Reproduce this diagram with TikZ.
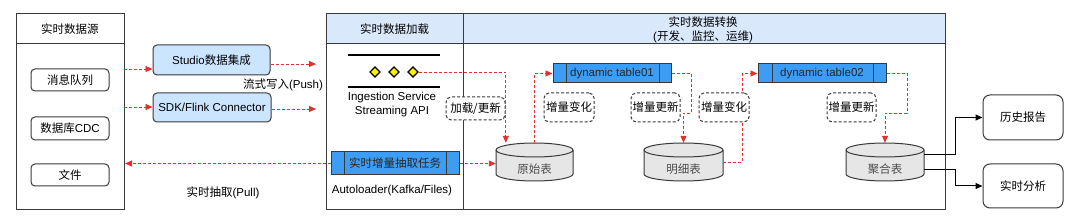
\documentclass[tikz,border=0pt]{standalone}
\usepackage{fontspec}
\setmainfont{Liberation Sans}
\newfontfamily\cjk{Noto Sans CJK SC}
\usetikzlibrary{arrows.meta,calc}
\definecolor{hdrblue}{HTML}{DAE8FC}
\definecolor{lightblue}{HTML}{CCE5FF}
\definecolor{procblue}{HTML}{3D9DF5}
\definecolor{linegray}{HTML}{3A3A3A}
\definecolor{cylfill}{HTML}{E6E6E6}
\definecolor{reddash}{HTML}{E03030}
\newcommand{\zh}[1]{{\cjk #1}}
\newcommand{\mycyl}[2]{%
  \draw[cylstyle] (#1-#2,150) -- (#1-#2,174) arc[start angle=180,end angle=0,x radius=#2,y radius=7]
     -- (#1+#2,150) arc[start angle=0,end angle=-180,x radius=#2,y radius=7] -- cycle;
  \draw[cylline] (#1-#2,150) arc[start angle=180,end angle=0,x radius=#2,y radius=7];}
\tikzset{
  panelline/.style={draw=linegray, line width=1pt},
  srcitem/.style={draw=linegray, line width=1pt, rounded corners=4pt, fill=white, inner sep=0pt},
  bluebox/.style={draw=linegray, line width=1pt, rounded corners=4pt, fill=lightblue, inner sep=0pt},
  procbox/.style={draw=linegray, line width=1pt, fill=procblue, inner sep=0pt, text=black!85},
  dashlbl/.style={draw=linegray, line width=1pt, dash pattern=on 3pt off 2pt, rounded corners=5pt, fill=white, inner sep=0pt},
  outbox/.style={draw=linegray, line width=1pt, rounded corners=7pt, fill=white, inner sep=0pt},
  cylstyle/.style={draw=linegray, line width=1pt, fill=cylfill},
  cylline/.style={draw=linegray, line width=1pt},
  cylbox/.style={inner sep=0pt, minimum height=38pt},
  redarrow/.style={draw=reddash, line width=0.9pt, dash pattern=on 3pt off 2pt, -{Triangle[length=7pt,width=6pt]}},
  blackarrow/.style={draw=black, line width=1pt, -{Triangle[length=7pt,width=6pt]}},
}
\begin{document}
\begin{tikzpicture}[x=1pt,y=-1pt,font=\fontsize{11.5}{13.5}\selectfont]
\useasboundingbox (0,0) rectangle (1080,219);
\fill[white] (0,0) rectangle (1080,219);
% left panel
\node[draw=linegray, line width=1pt, minimum width=108pt, minimum height=196pt, inner sep=0pt] (src) at (70,112) {};
\draw[panelline] (16,44) -- (124,44);
\node (srctitle) at (70,29.5) {\zh{实时数据源}};
\node[srcitem, minimum width=78pt, minimum height=22pt] (mq) at (70,80) {\zh{消息队列}};
\node[srcitem, minimum width=78pt, minimum height=23pt] (cdc) at (70,128.5) {\zh{数据库}CDC};
\node[srcitem, minimum width=78pt, minimum height=22pt] (file) at (70,175) {\zh{文件}};
% middle boxes
\node[bluebox, minimum width=117pt, minimum height=30pt] (studio) at (211.5,60) {Studio\zh{数据集成}};
\node[bluebox, minimum width=118pt, minimum height=29pt] (sdk) at (212,107.5) {SDK/Flink Connector};
\node (push) at (283,85) {\zh{流式写入}(Push)};
\node (pull) at (223,193) {\zh{实时抽取}(Pull)};
% big panel
\fill[hdrblue] (326,14) rectangle (945,44);
\node[draw=linegray, line width=1pt, minimum width=619pt, minimum height=196pt, inner sep=0pt] (big) at (635.5,112) {};
\draw[panelline] (326,44) -- (945,44);
\draw[panelline] (463,14) -- (463,210);
\node (loadtitle) at (394.5,29.5) {\zh{实时数据加载}};
\node[align=center, font=\fontsize{11.5}{14}\selectfont] (transtitle) at (703,29.5) {\zh{实时数据转换}\\(\zh{开发、监控、运维})};
% ingestion icon
\draw[line width=1.6pt] (348,55) -- (440,55);
\draw[line width=1.6pt] (348,87) -- (440,87);
\foreach \xx/\nm in {375/d1,394/d2,413/d3}{
  \draw[fill=yellow, line width=1.3pt] (\xx-5,72) -- (\xx,67) -- (\xx+5,72) -- (\xx,77) -- cycle;
  \coordinate (\nm) at (\xx+6,72);
}
\node[align=center, font=\fontsize{11.5}{14}\selectfont] (ingest) at (392,105) {Ingestion Service\\Streaming API};
\node[procbox, minimum width=128pt, minimum height=23pt] (task) at (395,163.5) {\zh{实时增量抽取任务}};
\draw[line width=1pt, linegray] (344,152) -- (344,175) (446,152) -- (446,175);
\node (autoloader) at (392,191) {Autoloader(Kafka/Files)};
% dashed labels
\node[dashlbl, minimum width=59pt, minimum height=23pt] (jz) at (475.5,108.5) {\zh{加载/更新}};
\node[dashlbl, minimum width=50pt, minimum height=29pt] (bl1) at (569,107.5) {\zh{增量变化}};
\node[dashlbl, minimum width=49pt, minimum height=29pt] (gx1) at (655.5,107.5) {\zh{增量更新}};
\node[dashlbl, minimum width=49pt, minimum height=29pt] (gx2) at (851.5,107.5) {\zh{增量更新}};
% dynamic tables
\node[procbox, minimum width=118pt, minimum height=19pt] (dt1) at (612,73.5) {dynamic table01};
\draw[line width=1pt, linegray] (566,64) -- (566,83) (659,64) -- (659,83);
\node[procbox, minimum width=128pt, minimum height=19pt] (dt2) at (822,73.5) {dynamic table02};
\draw[line width=1pt, linegray] (772,64) -- (772,83) (873,64) -- (873,83);
% cylinders
\mycyl{534.5}{38.5}
\mycyl{683.5}{39.5}
\mycyl{885}{39}
\node[cylbox, minimum width=77pt] (c1) at (534.5,162) {};
\node[cylbox, minimum width=79pt] (c2) at (683.5,162) {};
\node[cylbox, minimum width=78pt] (c3) at (885,162) {};
\node[text=black!70] at ($(c1.center)+(0,7)$) {\zh{原始表}};
\node[text=black!70] at ($(c2.center)+(0,7)$) {\zh{明细表}};
\node[text=black!70] at ($(c3.center)+(0,7)$) {\zh{聚合表}};
% output boxes
\node[outbox, minimum width=80pt, minimum height=45pt] (hist) at (1023,117.5) {\zh{历史报告}};
\node[outbox, minimum width=80pt, minimum height=44pt] (rt) at (1023,186) {\zh{实时分析}};
% red connectors
\coordinate (s1) at (124,69);
\coordinate (s2) at (124,107);
\coordinate (p1) at (316,64);
\coordinate (p2) at (316,109);
\coordinate (pl) at (125,163.5);
\draw[redarrow] (s1) -- (studio.west |- s1);
\draw[redarrow] (s2) -- (sdk.west |- s2);
\draw[redarrow] (studio.east |- p1) -- (p1);
\draw[redarrow] (sdk.east |- p2) -- (p2);
\draw[redarrow] (task.west) -- (pl);
\draw[redarrow] (task.east) -- (task.east -| c1.west);
\draw[redarrow] (d3) -| ($(c1.north west)+(10,0)$);
\draw[redarrow] (c1.north) |- (dt1.west);
\draw[redarrow] (dt1.east) -| (691,113) -| (c2.north);
\draw[redarrow] (c2.east) -- (742,162) |- (dt2.west);
\draw[redarrow] (dt2.east) -| (907,113) -| (c3.north);
% label drawn over the line it covers
\node[dashlbl, minimum width=50pt, minimum height=29pt] (bl2) at (724,107.5) {\zh{增量变化}};
% black outputs
\draw[blackarrow] ($(c3.east)+(0,-7)$) -- ++(31,0) |- (hist.west);
\draw[blackarrow] ($(c3.east)+(0,8)$) -- ++(31,0) |- (rt.west);
\end{tikzpicture}
\end{document}
